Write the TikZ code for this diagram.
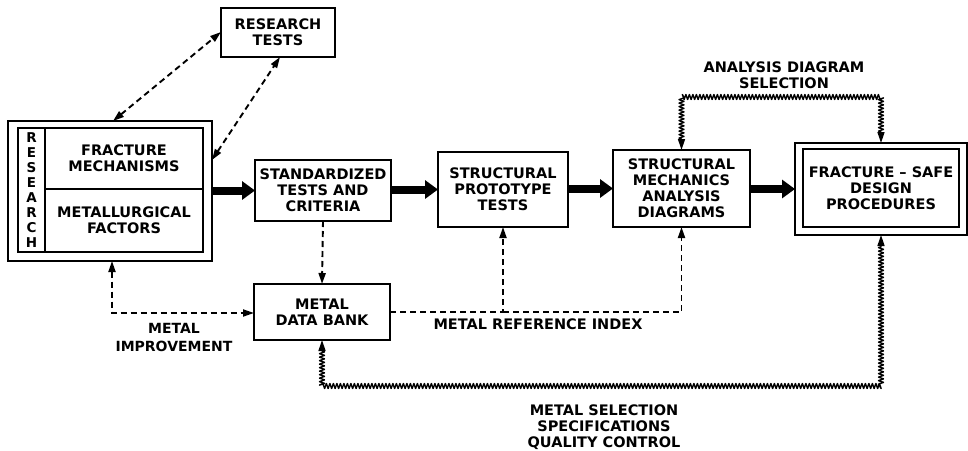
\documentclass[tikz,border=0pt]{standalone}
\usepackage{fontspec}
\setmainfont{DejaVu Sans}
\newfontfamily\boxf{DejaVu Sans}
\usetikzlibrary{arrows.meta,decorations.pathmorphing,calc}
\tikzset{
  box/.style={draw, line width=1.6pt, inner sep=0pt, outer sep=0pt, align=center,
    font=\boxf\bfseries\fontsize{14.5}{16}\selectfont},
  lbl/.style={inner sep=0pt, align=center, font=\boxf\bfseries\fontsize{14.5}{16}\selectfont},
  fat/.style={line width=8pt, -{Triangle[length=13pt,width=18pt]}},
  dsh/.style={line width=1.9pt, dash pattern=on 6pt off 4pt},
  tip/.tip={Triangle[length=11pt,width=7pt]},
  wavy/.style={line width=1.4pt, line join=round, decorate, decoration={zigzag, segment length=3.5pt, amplitude=2.5pt,
    pre=lineto, pre length=11pt, post=lineto, post length=11pt}}
}
\begin{document}
\begin{tikzpicture}[x=1pt,y=-1pt]
\useasboundingbox (0,0) rectangle (968,450);
% research block
\node[box, minimum width=204pt, minimum height=140pt] (rout) at (110,191) {};
\node[box, minimum width=27pt, minimum height=124pt, font=\boxf\bfseries\fontsize{13.5}{15}\selectfont] (rres) at (31.5,190) {R\\E\\S\\E\\A\\R\\C\\H};
\node[box, minimum width=158pt, minimum height=61pt] (fm) at (124,158.5) {FRACTURE\\MECHANISMS};
\node[box, minimum width=158pt, minimum height=63pt] (mf) at (124,220.5) {METALLURGICAL\\FACTORS};
% other boxes
\node[box, minimum width=114pt, minimum height=49pt] (rt) at (278,32.5) {RESEARCH\\TESTS};
\node[box, minimum width=136pt, minimum height=61pt] (std) at (323,190.5) {STANDARDIZED\\TESTS AND\\CRITERIA};
\node[box, minimum width=130pt, minimum height=75pt] (proto) at (503,189.5) {STRUCTURAL\\PROTOTYPE\\TESTS};
\node[box, minimum width=137pt, minimum height=77pt] (sm) at (681.5,188.5) {STRUCTURAL\\MECHANICS\\ANALYSIS\\DIAGRAMS};
\node[box, minimum width=172pt, minimum height=92pt] (fo) at (881,189) {};
\node[box, minimum width=156pt, minimum height=78pt] (fi) at (881,188) {FRACTURE – SAFE\\DESIGN\\PROCEDURES};
\node[box, minimum width=136pt, minimum height=56pt] (db) at (322,312) {METAL\\DATA BANK};
% labels
\node[lbl] (lads) at (784,75) {ANALYSIS DIAGRAM\\SELECTION};
\node[lbl, font=\boxf\bfseries\fontsize{14}{18}\selectfont] (limp) at (174,337) {METAL\\IMPROVEMENT};
\node[lbl] (lref) at (538,324) {METAL REFERENCE INDEX};
\node[lbl] (lsel) at (604,427) {METAL SELECTION\\SPECIFICATIONS\\QUALITY CONTROL};
% thick arrows
\draw[fat] (std.west -| rout.east) -- (std.west);
\draw[fat] (proto.west -| std.east) -- (proto.west);
\draw[fat] (sm.west -| proto.east) -- (sm.west);
\draw[fat] (fo.west -| sm.east) -- (fo.west);
% dashed connectors
\draw[dsh, tip-tip] ($(rout.north)+(3,0)$) -- ($(rt.west)+(0,-0.5)$);
\draw[dsh, tip-tip] ($(rout.east)+(0,-31)$) -- ($(rt.south)+(2,0)$);
\draw[dsh, -tip] (std.south) -- (db.north);
\draw[dsh, tip-tip] ($(rout.south)+(2,0)$) |- ($(db.west)+(0,1)$);
\draw[dsh, -tip] (db.east) -| (proto.south);
\draw[dsh, -tip] (proto.south |- db.east) -| (sm.south);
% wavy connectors
\coordinate (ads) at (0,97);
\coordinate (sel) at (0,386);
\draw[wavy, tip-tip] (sm.north) |- (ads -| fo.north) -- (fo.north);
\draw[wavy, tip-tip] (db.south) |- (sel -| fo.south) -- (fo.south);
\end{tikzpicture}
\end{document}
